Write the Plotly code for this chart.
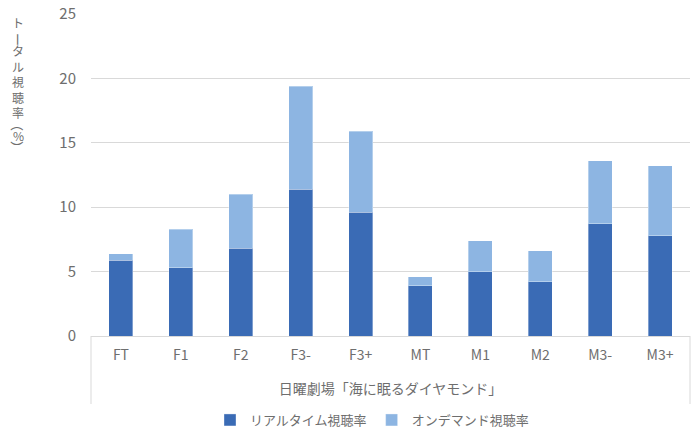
import plotly.graph_objects as go

group = "日曜劇場「海に眠るダイヤモンド」"
categories = ["FT", "F1", "F2", "F3-", "F3+", "MT", "M1", "M2", "M3-", "M3+"]
realtime = [5.9, 5.3, 6.8, 11.4, 9.6, 3.9, 5.0, 4.2, 8.7, 7.8]
ondemand = [0.5, 3.0, 4.2, 8.0, 6.3, 0.7, 2.4, 2.4, 4.9, 5.4]
series_names = ["リアルタイム視聴率", "オンデマンド視聴率"]
y_title = "トータル視聴率（%）"
y_ticks = [0, 5, 10, 15, 20, 25]

FONT = "Noto Sans CJK JP, Noto Sans, sans-serif"
GREY = "#6E6E6E"
LINE = "#D9D9D9"

W, H = 700, 441
PL, PT, PR, PB = 91, 14, 690, 336          # plot area in window pixels
PW, PH = PR - PL, PB - PT


def py(ypix):
    return 1 - (ypix - PT) / PH


def px(xpix):
    return (xpix - PL) / PW


# group label gets a blank first line to sit lower, as in the reference
x = [["<br>" + group] * len(categories), categories]

fig = go.Figure()
fig.add_trace(go.Bar(x=x, y=realtime, name=series_names[0],
                     marker=dict(color="#3A6BB5", line=dict(color="rgba(255,255,255,0.35)", width=1))))
fig.add_trace(go.Bar(x=x, y=ondemand, name=series_names[1],
                     marker=dict(color="#8DB5E2", line=dict(color="rgba(255,255,255,0.35)", width=1))))

fig.update_layout(
    barmode="stack",
    bargap=0.6,
    width=W, height=H,
    margin=dict(l=PL, r=W - PR, t=PT, b=H - PB, autoexpand=False),
    plot_bgcolor="white", paper_bgcolor="white",
    font=dict(family=FONT, color=GREY, size=13),
    legend=dict(orientation="h", x=px(210), xanchor="left", y=py(420),
                yanchor="middle", font=dict(size=13, color=GREY), traceorder="normal",
                itemwidth=30),
    showlegend=True,
)
fig.update_yaxes(range=[0, 25], tickvals=y_ticks, showgrid=True, gridcolor=LINE,
                 gridwidth=1, zeroline=False, showline=False, ticks="", automargin=False,
                 ticklabeloverflow="allow",
                 tickfont=dict(size=15, color=GREY), ticklabelstandoff=14)
fig.update_xaxes(type="multicategory", showline=True, linecolor=LINE, ticks="",
                 showdividers=False, automargin=False, ticklabelstandoff=6,
                 tickfont=dict(size=14, color=GREY))

# outer frame of the category axis box (left & right dividers)
for xe in (0, 1):
    fig.add_shape(type="line", xref="paper", yref="paper", x0=xe, x1=xe,
                  y0=0, y1=py(404), line=dict(color=LINE, width=1))

# vertical (stacked) axis title: upright characters, long-vowel mark and brackets turned
chars = list(y_title)
pieces = [
    (chars[0], 22, 0),                       # ト
    (chars[1], 39, 90),                      # ー
    ("<br>".join(chars[2:7]), 81, 0),        # タル視聴率
    (chars[7], 124, 90),                     # （
    (chars[8], 135, 0),                      # %
    (chars[9], 147, 90),                     # ）
]
for text, ypix, rot in pieces:
    fig.add_annotation(text=text, xref="paper", yref="paper", x=px(18),
                       y=py(ypix), xanchor="center", yanchor="middle",
                       showarrow=False, textangle=rot,
                       font=dict(size=12 if rot == 0 else 13, color=GREY))

fig.write_html("out.html", config={"displayModeBar": False},
               post_script="document.body.style.margin='0';")
